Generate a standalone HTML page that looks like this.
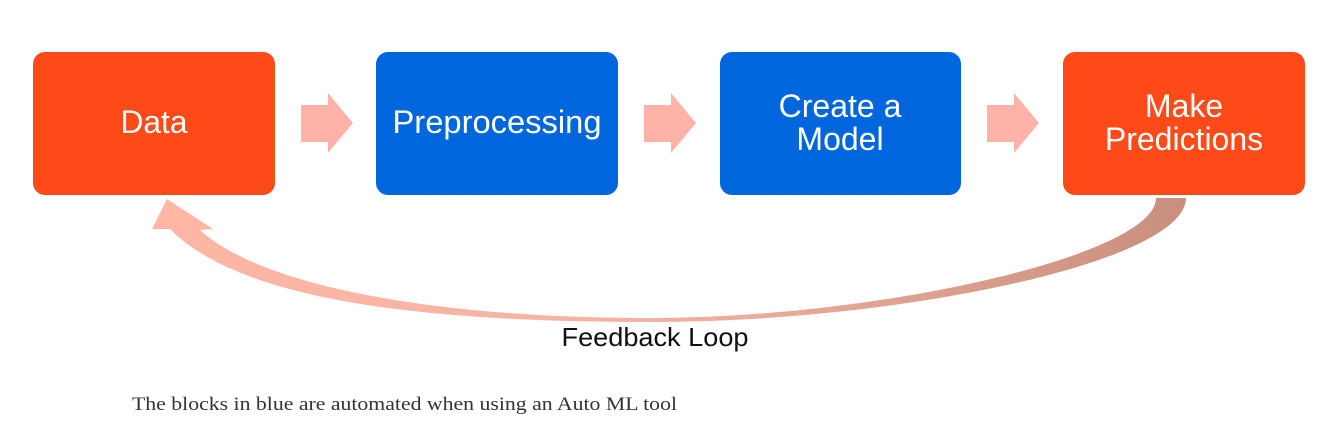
<!DOCTYPE html>
<html><head><meta charset="utf-8"><style>
html,body{margin:0;padding:0;background:#fff;width:1329px;height:427px;overflow:hidden}
</style></head><body>
<svg width="1329" height="427" viewBox="0 0 1329 427" xmlns="http://www.w3.org/2000/svg">
<defs>
<linearGradient id="g" x1="170" y1="0" x2="1186" y2="0" gradientUnits="userSpaceOnUse">
<stop offset="0" stop-color="#ffb6a4"/><stop offset="0.45" stop-color="#f4b3a2"/><stop offset="1" stop-color="#c98f7e"/>
</linearGradient>
</defs>
<rect x="33" y="52" width="242" height="143" rx="12" fill="#fe4a19"/>
<rect x="376" y="52" width="242" height="143" rx="12" fill="#0066dd"/>
<rect x="720" y="52" width="241" height="143" rx="12" fill="#0066dd"/>
<rect x="1063" y="52" width="242" height="143" rx="12" fill="#fe4a19"/>
<g fill="#ffb3a8">
<polygon points="301,105 328,105 328,93 353,123 328,153 328,142 301,142"/>
<polygon points="644,105 671,105 671,93 696,123 671,153 671,142 644,142"/>
<polygon points="987,105 1014,105 1014,93 1039,123 1014,153 1014,142 987,142"/>
</g>
<g font-family="Liberation Sans, Arial, sans-serif" font-size="32" fill="#fff" text-anchor="middle">
<text x="154" y="133" textLength="67" lengthAdjust="spacingAndGlyphs">Data</text>
<text x="497" y="133" textLength="209" lengthAdjust="spacingAndGlyphs">Preprocessing</text>
<text x="840" y="117">Create a</text>
<text x="840" y="150">Model</text>
<text x="1184" y="117">Make</text>
<text x="1184" y="150">Predictions</text>
</g>
<path d="M1186,198 C1186,262 900,322 650,322 C420,322 240,300 170,229 L152,229 L167,199 L213,229 L200,230 C260,285 430,318 650,318 C880,318 1156,255 1156,198 Z" fill="url(#g)"/>
<text x="655" y="346" font-family="Liberation Sans, Arial, sans-serif" font-size="26" fill="#111" text-anchor="middle" textLength="187" lengthAdjust="spacingAndGlyphs">Feedback Loop</text>
<text x="132" y="410" font-family="Liberation Serif, serif" font-size="19" fill="#333" textLength="545" lengthAdjust="spacingAndGlyphs">The blocks in blue are automated when using an Auto ML tool</text>
</svg>
</body></html>
